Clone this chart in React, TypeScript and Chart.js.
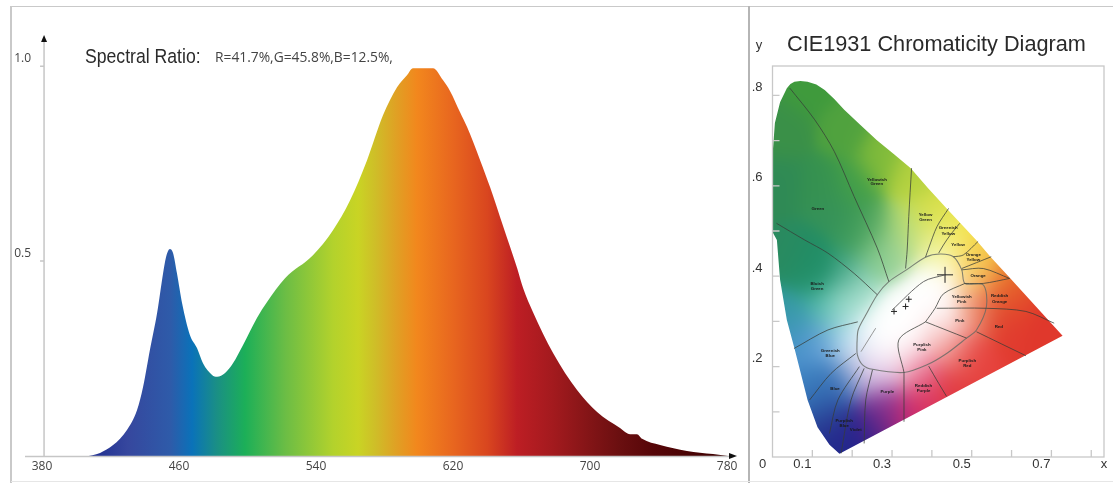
import React, { useEffect, useRef } from "react";
import { Chart, registerables } from "chart.js";

Chart.register(...registerables);

// ---------- spectrum ----------
const wavelengths = [380, 405.1, 413.9, 421.5, 429.6, 435.5, 439, 443, 447.2, 450.7, 452.4, 454.7, 456.5, 458.8, 461.8, 466.4, 470.5, 474, 479.3, 482.2, 486.9, 491.5, 497.4, 505.5, 511.4, 521.9, 538.2, 549.9, 559.9, 569.8, 579.1, 587.3, 593.1, 596.6, 608.3, 614.2, 618.3, 624.1, 628.2, 635.8, 641.6, 649.2, 657.4, 660.9, 666.7, 678.4, 692.4, 704.1, 717.5, 723.4, 727.4, 730.4, 740.9, 756.6, 771.8, 780.6];
const intensity = [0, 0, 0.008, 0.028, 0.067, 0.118, 0.177, 0.272, 0.367, 0.469, 0.51, 0.531, 0.521, 0.469, 0.392, 0.31, 0.277, 0.238, 0.208, 0.203, 0.213, 0.238, 0.285, 0.354, 0.395, 0.456, 0.515, 0.579, 0.656, 0.759, 0.874, 0.946, 0.977, 0.995, 0.995, 0.964, 0.936, 0.882, 0.844, 0.759, 0.69, 0.59, 0.482, 0.431, 0.369, 0.264, 0.169, 0.113, 0.072, 0.056, 0.056, 0.044, 0.028, 0.013, 0.005, 0];
const xTickValues = [380, 460, 540, 620, 700, 780];
const yTickValues = [0.5, 1.0];
const gradientNm = [405, 430, 455, 467.6, 482, 498.5, 522, 550, 564.6, 575, 587, 599, 620, 640, 657.4, 678.4, 698.2, 717.5, 736.8, 776];
const gradientColors = ["#1c2a8e", "#36479e", "#2e5ba9", "#0a72b9", "#1a8f85", "#1caf58", "#6bbd45", "#b3d22c", "#c9d424", "#cfbd28", "#e0a024", "#f2871d", "#e8661f", "#d9461f", "#bd1e24", "#a31a1e", "#851517", "#6a0f10", "#560608", "#3d0000"];
const ratioTitle = "Spectral Ratio:";
const ratioValues = "R=41.7%,G=45.8%,B=12.5%,";

// ---------- CIE diagram ----------
const locusX = [0.168, 0.143, 0.113, 0.088, 0.056, 0.036, 0.019, 0.011, 0.001, 0, 0.001, 0.006, 0.019, 0.036, 0.045, 0.055, 0.07, 0.088, 0.11, 0.131, 0.155, 0.18, 0.22, 0.262, 0.305, 0.347, 0.39, 0.436, 0.511, 0.548, 0.596, 0.728, 0.168];
const locusY = [0.007, 0.027, 0.066, 0.126, 0.237, 0.303, 0.392, 0.48, 0.496, 0.569, 0.679, 0.739, 0.785, 0.816, 0.825, 0.83, 0.832, 0.83, 0.824, 0.812, 0.792, 0.768, 0.735, 0.701, 0.67, 0.639, 0.595, 0.551, 0.48, 0.442, 0.396, 0.268, 0.007];
const ellipseX = [0.212, 0.215, 0.234, 0.263, 0.292, 0.338, 0.384, 0.421, 0.454, 0.475, 0.483, 0.529, 0.537, 0.512, 0.487, 0.437, 0.388, 0.33, 0.251, 0.226, 0.213, 0.212];
const ellipseY = [0.252, 0.281, 0.314, 0.359, 0.388, 0.415, 0.442, 0.449, 0.443, 0.414, 0.384, 0.381, 0.333, 0.281, 0.263, 0.229, 0.204, 0.187, 0.194, 0.204, 0.226, 0.252];
const dividerA: number[][] = [[0.0435, 0.816], [0.106, 0.746], [0.155, 0.676], [0.205, 0.576], [0.263, 0.462], [0.292, 0.388]];
const dividerB: number[][] = [[0.349, 0.639], [0.342, 0.532], [0.338, 0.458], [0.334, 0.417]];
const dividerC: number[][] = [[0.442, 0.55], [0.413, 0.51], [0.392, 0.462], [0.384, 0.442]];
const dividerD: number[][] = [[0.47, 0.517], [0.446, 0.491], [0.429, 0.469], [0.417, 0.451]];
const dividerE: number[][] = [[0.516, 0.477], [0.479, 0.447], [0.454, 0.443]];
const dividerF: number[][] = [[0.549, 0.443], [0.475, 0.417]];
const dividerG: number[][] = [[0.595, 0.395], [0.529, 0.417], [0.475, 0.414]];
const dividerH: number[][] = [[0.595, 0.395], [0.529, 0.384], [0.483, 0.384]];
const dividerI: number[][] = [[0.707, 0.296], [0.636, 0.322], [0.537, 0.329], [0.412, 0.329]];
const dividerK: number[][] = [[0.483, 0.384], [0.429, 0.361], [0.408, 0.329], [0.384, 0.299]];
const dividerL: number[][] = [[0.384, 0.299], [0.487, 0.263]];
const dividerM: number[][] = [[0.384, 0.299], [0.317, 0.259], [0.33, 0.187]];
const dividerN: number[][] = [[0.512, 0.277], [0.636, 0.224]];
const dividerO: number[][] = [[0.392, 0.201], [0.417, 0.163], [0.437, 0.134]];
const dividerP: number[][] = [[0.33, 0.187], [0.33, 0.078]];
const dividerQ: number[][] = [[0.251, 0.193], [0.234, 0.126], [0.23, 0.03]];
const dividerR: number[][] = [[0.23, 0.196], [0.197, 0.126], [0.172, 0.008]];
const dividerS: number[][] = [[0.218, 0.2], [0.164, 0.126], [0.143, 0.052]];
const dividerT: number[][] = [[0.209, 0.229], [0.147, 0.185], [0.093, 0.126]];
const dividerU: number[][] = [[0.214, 0.299], [0.139, 0.281], [0.054, 0.24]];
const dividerV: number[][] = [[0.263, 0.359], [0.205, 0.406], [0.139, 0.451], [0.081, 0.48], [0.01, 0.517]];
const dividers = [dividerA, dividerB, dividerC, dividerD, dividerE, dividerF, dividerG, dividerH, dividerI, dividerK, dividerL, dividerM, dividerN, dividerO, dividerP, dividerQ, dividerR, dividerS, dividerT, dividerU, dividerV];
const blackbodyLine: number[][] = [[0.3, 0.325], [0.379, 0.388], [0.433, 0.403]];
const daylightLine: number[][] = [[0.222, 0.233], [0.259, 0.285]];
const markerX = [0.433, 0.305, 0.334, 0.342];
const markerY = [0.403, 0.322, 0.333, 0.349];
const regionNames = ["Green", "Yellowish", "Green", "Yellow", "Green", "Greenish", "Yellow", "Yellow", "Orange", "Yellow", "Orange", "Yellowish", "Pink", "Reddish", "Orange", "Pink", "Red", "Purplish", "Pink", "Purplish", "Red", "Reddish", "Purple", "Purple", "Blue", "Purplish", "Blue", "Violet", "Greenish", "Blue", "Bluish", "Green"];
const regionNameX = [0.114, 0.262, 0.262, 0.384, 0.384, 0.441, 0.441, 0.466, 0.504, 0.504, 0.516, 0.475, 0.475, 0.57, 0.57, 0.47, 0.568, 0.375, 0.375, 0.489, 0.489, 0.379, 0.379, 0.288, 0.157, 0.18, 0.18, 0.209, 0.145, 0.145, 0.112, 0.112];
const regionNameY = [0.55, 0.614, 0.604, 0.535, 0.524, 0.506, 0.493, 0.469, 0.447, 0.436, 0.401, 0.355, 0.344, 0.356, 0.344, 0.302, 0.288, 0.249, 0.238, 0.212, 0.201, 0.158, 0.147, 0.145, 0.15, 0.08, 0.07, 0.06, 0.235, 0.224, 0.384, 0.373];
const cieXTicks = [0, 0.1, 0.2, 0.3, 0.4, 0.5, 0.6, 0.7, 0.8];
const cieYTicks = [0, 0.1, 0.2, 0.3, 0.4, 0.5, 0.6, 0.7, 0.8];
const cieXLabels = ["0", "0.1", "", "0.3", "", "0.5", "", "0.7", ""];
const cieYLabels = ["", "", ".2", "", ".4", "", ".6", "", ".8"];
const cieTitle = "CIE1931 Chromaticity Diagram";

// colour samples: chromaticity x, y and colour
const swatchX = [0.02, 0.03, 0.09, 0.12, 0.05, 0.1, 0.04, 0.12, 0.17, 0.22, 0.18, 0.2, 0.27, 0.25, 0.3, 0.35, 0.33, 0.4, 0.4, 0.46, 0.45, 0.5, 0.52, 0.5, 0.58, 0.62, 0.68, 0.72, 0.55, 0.5, 0.6, 0.5, 0.45, 0.42, 0.45, 0.38, 0.35, 0.38, 0.32, 0.27, 0.27, 0.26, 0.2, 0.17, 0.15, 0.13, 0.18, 0.1, 0.07, 0.04, 0.12, 0.19, 0.22, 0.25, 0.3, 0.33, 0.38, 0.42, 0.33, 0.27, 0.42, 0.2, 0.15, 0.18, 0.097, 0.263];
const swatchY = [0.6, 0.72, 0.82, 0.6, 0.45, 0.4, 0.31, 0.33, 0.33, 0.37, 0.72, 0.6, 0.66, 0.5, 0.45, 0.62, 0.5, 0.54, 0.47, 0.5, 0.45, 0.47, 0.43, 0.41, 0.39, 0.35, 0.3, 0.27, 0.33, 0.33, 0.29, 0.22, 0.24, 0.28, 0.15, 0.17, 0.2, 0.11, 0.09, 0.12, 0.18, 0.07, 0.05, 0.01, 0.08, 0.13, 0.17, 0.17, 0.25, 0.29, 0.26, 0.26, 0.2, 0.27, 0.3, 0.33, 0.36, 0.4, 0.25, 0.22, 0.33, 0.5, 0.55, 0.406, 0.436, 0.443];
const swatchColor = ["#2f8a55", "#3a9048", "#3f9a3c", "#35914f", "#2a8a5f", "#22906a", "#2a9a8e", "#4bb8a8", "#a5e0d0", "#b0e4d4", "#50a23e", "#44a048", "#80bb3a", "#55a860", "#a8d8a0", "#b5d23f", "#b8dc75", "#d7df4a", "#e8ee90", "#eee74f", "#fdfbb0", "#f4dc3c", "#f3ad36", "#fbd98a", "#e8772c", "#e44e2a", "#df352b", "#e03a2c", "#e0502f", "#f2a890", "#e13a2f", "#e6403b", "#ef8f8a", "#fadada", "#e23b3e", "#e04a72", "#f4b5c5", "#d92f5e", "#c0287a", "#7f2f90", "#d8b0dd", "#4a2488", "#2a1f8c", "#1e2a8c", "#28388f", "#2e62ac", "#3e78bb", "#3d82c0", "#4a90cc", "#4a96d0", "#6fa8db", "#b6def0", "#e8d8ee", "#ffffff", "#ffffff", "#ffffff", "#ffffff", "#ffffff", "#ffffff", "#ffffff", "#ffffff", "#3a9858", "#35915a", "#3aa080", "#1e8d66", "#7ec88c"];

const hexToRgb = (h: string) => [parseInt(h.slice(1, 3), 16), parseInt(h.slice(3, 5), 16), parseInt(h.slice(5, 7), 16)];

const pairs = (xs: number[], ys: number[]) => xs.map((x, i) => ({ x, y: ys[i] }));
const toXY = (p: number[][]) => p.map(([x, y]) => ({ x, y }));

function buildColourField(chart: any) {
  const { left, top, width, height } = chart.chartArea;
  const w = Math.ceil(width);
  const h = Math.ceil(height);
  const off = document.createElement("canvas");
  off.width = w;
  off.height = h;
  const c = off.getContext("2d")!;
  const img = c.createImageData(w, h);
  const rgb = swatchColor.map(hexToRgb);
  const sx = chart.scales.x;
  const sy = chart.scales.y;
  for (let j = 0; j < h; j++) {
    const vy = sy.getValueForPixel(top + j);
    for (let i = 0; i < w; i++) {
      const vx = sx.getValueForPixel(left + i);
      let sw = 1e-30, r = 0, g = 0, b = 0;
      for (let k = 0; k < rgb.length; k++) {
        const dx = vx - swatchX[k];
        const dy = vy - swatchY[k];
        const wt = Math.exp(-(dx * dx + dy * dy) / 0.0028);
        sw += wt;
        r += wt * rgb[k][0];
        g += wt * rgb[k][1];
        b += wt * rgb[k][2];
      }
      const o = (j * w + i) * 4;
      img.data[o] = r / sw;
      img.data[o + 1] = g / sw;
      img.data[o + 2] = b / sw;
      img.data[o + 3] = 255;
    }
  }
  c.putImageData(img, 0, 0);
  return off;
}

const spectrumPlugin = {
  id: "spectrumDecor",
  afterDraw(chart: any) {
    const { ctx } = chart;
    const sx = chart.scales.x;
    const sy = chart.scales.y;
    const ax = sx.getPixelForValue(381.2);
    const base = sy.getPixelForValue(0);
    const topY = sy.top;
    const right = sx.right;
    ctx.save();
    ctx.strokeStyle = "#c6c6c6";
    ctx.lineWidth = 1.5;
    ctx.beginPath();
    ctx.moveTo(ax, topY + 6);
    ctx.lineTo(ax, base);
    ctx.moveTo(25, base + 0.5);
    ctx.lineTo(right - 6, base + 0.5);
    for (const v of yTickValues) {
      const p = sy.getPixelForValue(v);
      ctx.moveTo(ax - 4, p);
      ctx.lineTo(ax, p);
    }
    ctx.stroke();
    ctx.fillStyle = "#111";
    ctx.beginPath();
    ctx.moveTo(ax, topY);
    ctx.lineTo(ax - 3, topY + 7);
    ctx.lineTo(ax + 3, topY + 7);
    ctx.closePath();
    ctx.fill();
    ctx.beginPath();
    ctx.moveTo(right, base);
    ctx.lineTo(right - 8, base - 3);
    ctx.lineTo(right - 8, base + 3);
    ctx.closePath();
    ctx.fill();
    ctx.textBaseline = "middle";
    ctx.fillStyle = "#2b2b2b";
    ctx.font = "20.5px 'Liberation Sans'";
    ctx.save();
    ctx.translate(85, 57);
    ctx.scale(0.86, 1);
    ctx.fillText(ratioTitle, 0, 0);
    ctx.restore();
    ctx.fillStyle = "#444";
    ctx.font = "13.8px 'Open Sans'";
    ctx.fillText(ratioValues, 215, 58);
    ctx.restore();
  },
};

const ciePlugin = {
  id: "cieDecor",
  beforeDatasetsDraw(chart: any) {
    const { ctx, chartArea } = chart;
    const field = (chart.$field = chart.$field || buildColourField(chart));
    const pts = chart.getDatasetMeta(0).data;
    ctx.save();
    ctx.beginPath();
    pts.forEach((p: any, i: number) => (i ? ctx.lineTo(p.x, p.y) : ctx.moveTo(p.x, p.y)));
    ctx.closePath();
    ctx.clip();
    ctx.drawImage(field, chartArea.left, chartArea.top);
    ctx.restore();
  },
  afterDraw(chart: any) {
    const { ctx, chartArea: a } = chart;
    const sx = chart.scales.x;
    const sy = chart.scales.y;
    ctx.save();
    ctx.strokeStyle = "#c8c8c8";
    ctx.lineWidth = 1.3;
    ctx.strokeRect(a.left, a.top, a.right - a.left, a.bottom - a.top);
    ctx.beginPath();
    for (const v of cieXTicks.slice(1)) {
      const p = sx.getPixelForValue(v);
      ctx.moveTo(p, a.bottom);
      ctx.lineTo(p, a.bottom - 7);
    }
    for (const v of cieYTicks.slice(1)) {
      const p = sy.getPixelForValue(v);
      ctx.moveTo(a.left, p);
      ctx.lineTo(a.left + 7, p);
    }
    ctx.stroke();
    ctx.fillStyle = "#1a1a1a";
    ctx.textAlign = "center";
    ctx.textBaseline = "middle";
    ctx.font = "bold 4.4px 'Liberation Sans'";
    regionNames.forEach((t, i) => {
      ctx.fillText(t, sx.getPixelForValue(regionNameX[i]), sy.getPixelForValue(regionNameY[i]));
    });
    ctx.fillStyle = "#333";
    ctx.font = "13px 'Liberation Sans'";
    ctx.fillText("y", 9, 45);
    ctx.fillText("x", 354, 464);
    ctx.restore();
  },
};

function useChart(make: (c: HTMLCanvasElement) => Chart) {
  const ref = useRef<HTMLCanvasElement>(null);
  useEffect(() => {
    const chart = make(ref.current!);
    return () => chart.destroy();
  }, []);
  return ref;
}

function makeSpectrum(canvas: HTMLCanvasElement) {
  return new Chart(canvas, {
    type: "line",
    data: {
      datasets: [
        {
          data: pairs(wavelengths, intensity),
          borderWidth: 0,
          pointRadius: 0,
          cubicInterpolationMode: "monotone",
          fill: "origin",
          backgroundColor: (ctx: any) => {
            const { chart } = ctx;
            const sx = chart.scales.x;
            if (!chart.chartArea) return "#888";
            const g = chart.ctx.createLinearGradient(sx.left, 0, sx.right, 0);
            const span = sx.max - sx.min;
            gradientNm.forEach((nm, i) => g.addColorStop((nm - sx.min) / span, gradientColors[i]));
            return g;
          },
        },
      ],
    },
    options: {
      responsive: false,
      animation: false,
      events: [],
      layout: { padding: { top: 35, right: 8, left: 0, bottom: 0 } },
      plugins: { legend: { display: false }, tooltip: { enabled: false } },
      scales: {
        x: {
          type: "linear",
          min: 380,
          max: 785.8,
          afterFit: (s: any) => { s.height = 27; },
          afterBuildTicks: (s: any) => { s.ticks = xTickValues.map((value) => ({ value })); },
          border: { display: false },
          grid: { display: false, tickLength: 0 },
          ticks: { color: "#444", font: { family: "Open Sans", size: 12 }, padding: 3, maxRotation: 0, autoSkip: false, callback: (v: any) => String(v) },
        },
        y: {
          min: 0,
          max: 1.08,
          afterFit: (s: any) => { s.width = 42; },
          afterBuildTicks: (s: any) => { s.ticks = yTickValues.map((value) => ({ value })); },
          border: { display: false },
          grid: { display: false, tickLength: 0 },
          ticks: { color: "#444", font: { family: "Open Sans", size: 12 }, padding: 11, labelOffset: -8, callback: (v: any) => Number(v).toFixed(1) },
        },
      },
    },
    plugins: [spectrumPlugin],
  } as any);
}

function makeCie(canvas: HTMLCanvasElement) {
  const line = (data: any[], color: string, width: number) => ({ data, borderColor: color, borderWidth: width, pointRadius: 0, showLine: true, fill: false, tension: 0 });
  const curved = (data: any[], color: string, width: number) => ({ ...line(data, color, width), tension: 0.3 });
  return new Chart(canvas, {
    type: "scatter",
    data: {
      datasets: [
        line(pairs(locusX, locusY), "rgba(0,0,0,0)", 0),
        ...dividers.map((d) => curved(toXY(d), "rgba(55,60,55,0.75)", 1)),
        curved(pairs(ellipseX, ellipseY), "rgba(100,105,100,0.8)", 1.1),
        curved(toXY(blackbodyLine), "rgba(90,90,90,0.9)", 1),
        curved(toXY(daylightLine), "rgba(140,140,140,0.9)", 1),
        { data: pairs(markerX, markerY), pointStyle: "cross", pointRadius: [8, 3, 3, 3], borderColor: "#222", borderWidth: 1, showLine: false },
      ],
    },
    options: {
      responsive: false,
      animation: false,
      events: [],
      layout: { padding: { top: 66, right: 2, left: 0, bottom: 0 } },
      plugins: {
        legend: { display: false },
        tooltip: { enabled: false },
        title: { display: false },
      },
      scales: {
        x: {
          type: "linear",
          min: 0,
          max: 0.832,
          afterFit: (s: any) => { s.height = 26; },
          afterBuildTicks: (s: any) => { s.ticks = cieXTicks.map((value) => ({ value })); },
          border: { display: false },
          grid: { display: false, tickLength: 0 },
          ticks: { color: "#333", font: { family: "Liberation Sans", size: 13 }, padding: 0, labelOffset: -10, autoSkip: false, maxRotation: 0, callback: (_: any, i: number) => cieXLabels[i] },
        },
        y: {
          min: 0,
          max: 0.865,
          afterFit: (s: any) => { s.width = 22.5; },
          afterBuildTicks: (s: any) => { s.ticks = cieYTicks.map((value) => ({ value })); },
          border: { display: false },
          grid: { display: false, tickLength: 0 },
          ticks: { color: "#333", font: { family: "Liberation Sans", size: 13 }, padding: 10, labelOffset: -8, autoSkip: false, callback: (_: any, i: number) => cieYLabels[i] },
        },
      },
    },
    plugins: [
      ciePlugin,
      {
        id: "cieTitle",
        afterDraw(chart: any) {
          const { ctx } = chart;
          ctx.save();
          ctx.fillStyle = "#2a2a2a";
          ctx.textBaseline = "middle";
          ctx.font = "21.7px 'Liberation Sans'";
          ctx.fillText(cieTitle, 37, 45);
          ctx.restore();
        },
      },
    ],
  } as any);
}

const rule = (left: number, top: number, width: number, height: number, background = "#c9c9c9"): React.CSSProperties => ({ position: "absolute", left, top, width, height, background });

export default function App() {
  const leftRef = useChart(makeSpectrum);
  const rightRef = useChart(makeCie);
  return (
    <div style={{ position: "fixed", left: 0, top: 0, width: 1113, height: 483, background: "#fff", overflow: "hidden" }}>
      <canvas ref={leftRef} width={745} height={483} style={{ position: "absolute", left: 0, top: 0, width: 745, height: 483 }} />
      <canvas ref={rightRef} width={363} height={483} style={{ position: "absolute", left: 750, top: 0, width: 363, height: 483 }} />
      <div style={rule(11, 6, 1102, 1)} />
      <div style={rule(10, 6, 2, 477)} />
      <div style={rule(748, 6, 2, 477, "#b5b5b5")} />
      <div style={rule(11, 481, 1102, 1, "#e6e6e6")} />
    </div>
  );
}
